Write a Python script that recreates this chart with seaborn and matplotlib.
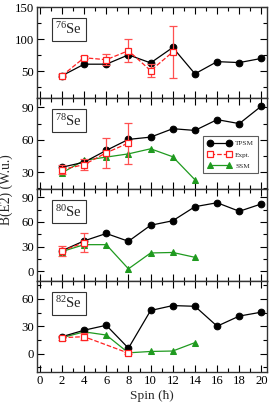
import numpy as np
import pandas as pd
import matplotlib
matplotlib.use("Agg")
import matplotlib.pyplot as plt
import seaborn as sns
from matplotlib.ticker import MultipleLocator

# ---------------- data ----------------
spin_tpsm = [2, 4, 6, 8, 10, 12, 14, 16, 18, 20]
spin_ssm = [2, 4, 6, 8, 10, 12, 14]

nuclei = ["76", "78", "80", "82"]

tpsm_76 = [43, 61, 61, 75.5, 63, 87, 46, 65, 63.5, 70]
expt_spin_76 = [2, 4, 6, 8, 10, 12]
expt_76 = [43, 71, 68, 82, 51, 80]
expt_err_76 = [2, 2, 8.5, 17.5, 10.5, 40]

tpsm_78 = [34.6, 39.3, 50.2, 60.4, 62.5, 70.3, 68.7, 78.7, 75, 91.3]
expt_spin_78 = [2, 4, 6, 8]
expt_78 = [32.5, 37, 48, 57]
expt_err_78 = [4.6, 5, 14, 19]
ssm_78 = [29.4, 41, 44, 47, 51.7, 44.3, 23]

tpsm_80 = [25, 37, 46, 36.5, 56, 61.5, 78.6, 83.4, 73, 82]
expt_spin_80 = [2, 4]
expt_80 = [24.7, 35]
expt_err_80 = [6, 11]
ssm_80 = [24, 32.4, 32.4, 3, 22.3, 22.9, 17]

tpsm_82 = [18.7, 25.8, 31.2, 6.1, 47.4, 52.8, 52, 30.2, 41.3, 45.6]
expt_spin_82 = [2, 4, 8]
expt_82 = [17.6, 18.7, 0.7]
expt_err_82 = [2, 4, 1]
ssm_82 = [17.6, 24, 20.5, 1, 2.5, 3, 12.2]

tpsm_all = [tpsm_76, tpsm_78, tpsm_80, tpsm_82]
expt_spin_all = [expt_spin_76, expt_spin_78, expt_spin_80, expt_spin_82]
expt_all = [expt_76, expt_78, expt_80, expt_82]
expt_err_all = [expt_err_76, expt_err_78, expt_err_80, expt_err_82]
ssm_all = [None, ssm_78, ssm_80, ssm_82]

ylims = [(8, 150), (14, 98.5), (-11.5, 99.5), (-20, 80)]
ymajor = [50, 30, 30, 30]
yminor = [25, 15, 15, 15]
xticks = list(range(0, 21, 2))

# ---------------- style ----------------
sns.set_style("ticks")
plt.rcParams["font.family"] = ["Liberation Serif", "DejaVu Serif"]
plt.rcParams["mathtext.fontset"] = "custom"
plt.rcParams["mathtext.rm"] = "Liberation Serif"
plt.rcParams["mathtext.it"] = "Liberation Serif:italic"

GREEN = "#1f9a1f"
RED = "#ff2020"

fig = plt.figure(figsize=(2.69, 4.07), dpi=100)
gs = fig.add_gridspec(4, 1, left=0.1375, right=0.9926, top=0.9828,
                      bottom=0.086, hspace=0)
axes = [fig.add_subplot(gs[i]) for i in range(4)]

for i, ax in enumerate(axes):
    dft = pd.DataFrame({"spin": spin_tpsm, "val": tpsm_all[i]})
    sns.lineplot(data=dft, x="spin", y="val", ax=ax, color="black",
                 marker="o", markersize=4.8, markeredgecolor="black",
                 linewidth=0.9, label="TPSM", legend=False, zorder=3)
    if ssm_all[i] is not None:
        dfs = pd.DataFrame({"spin": spin_ssm, "val": ssm_all[i]})
        sns.lineplot(data=dfs, x="spin", y="val", ax=ax, color=GREEN,
                     marker="^", markersize=4.8, markeredgecolor=GREEN,
                     linewidth=0.9, label="SSM", legend=False, zorder=2)
    # Expt
    dfe = pd.DataFrame({"spin": expt_spin_all[i], "val": expt_all[i]})
    ax.errorbar(dfe["spin"], dfe["val"], yerr=expt_err_all[i], fmt="none",
                ecolor="#ff5050", elinewidth=0.9, capsize=3.2, capthick=0.9,
                zorder=4)
    sns.lineplot(data=dfe, x="spin", y="val", ax=ax, color=RED,
                 marker="s", markersize=4.0, markerfacecolor="white",
                 markeredgecolor=RED, markeredgewidth=0.9,
                 linewidth=0.9, linestyle="--", label="Expt.", legend=False,
                 zorder=5)

    ax.set_xlim(-0.25, 20.5)
    ax.set_ylim(*ylims[i])
    ax.xaxis.set_major_locator(MultipleLocator(2))
    ax.xaxis.set_minor_locator(MultipleLocator(1))
    ax.yaxis.set_major_locator(MultipleLocator(ymajor[i]))
    ax.yaxis.set_minor_locator(MultipleLocator(yminor[i]))
    ax.tick_params(which="both", direction="in", top=True, right=True,
                   width=0.8, labelsize=9.2, colors="black", pad=2)
    ax.tick_params(which="major", length=5)
    ax.tick_params(which="minor", length=2.6)
    ax.set_xlabel("")
    ax.set_ylabel("")
    for s in ax.spines.values():
        s.set_linewidth(1.0)
        s.set_color("#333333")
    if i < 3:
        ax.tick_params(labelbottom=False)
    else:
        ax.set_xticks(xticks)
        ax.set_xlabel("Spin (\u0127)", fontsize=9.6)
        ax.xaxis.set_label_coords(0.5, -0.2)

    ax.text(0.138, 0.755, r"$^{%s}$Se" % nuclei[i], transform=ax.transAxes,
            ha="center", va="center", fontsize=10.5,
            bbox=dict(boxstyle="square,pad=0.25", facecolor="white",
                      edgecolor="#333333", linewidth=0.8))

# legend in second panel
h, l = axes[1].get_legend_handles_labels()
order = [l.index("TPSM"), l.index("Expt."), l.index("SSM")]
leg = axes[1].legend([h[k] for k in order], [l[k] for k in order],
                     loc="upper right", bbox_to_anchor=(0.978, 0.625),
                     fontsize=5.2, frameon=True, fancybox=False,
                     edgecolor="#333333", handlelength=3.2, numpoints=2,
                     borderpad=0.6, labelspacing=0.7, handletextpad=0.6)
leg.get_frame().set_linewidth(0.8)

fig.text(0.024, 0.533, "B(E2) (W.u.)", rotation=90, ha="center",
         va="center", fontsize=9.8)

fig.savefig("out.png", dpi=100)
